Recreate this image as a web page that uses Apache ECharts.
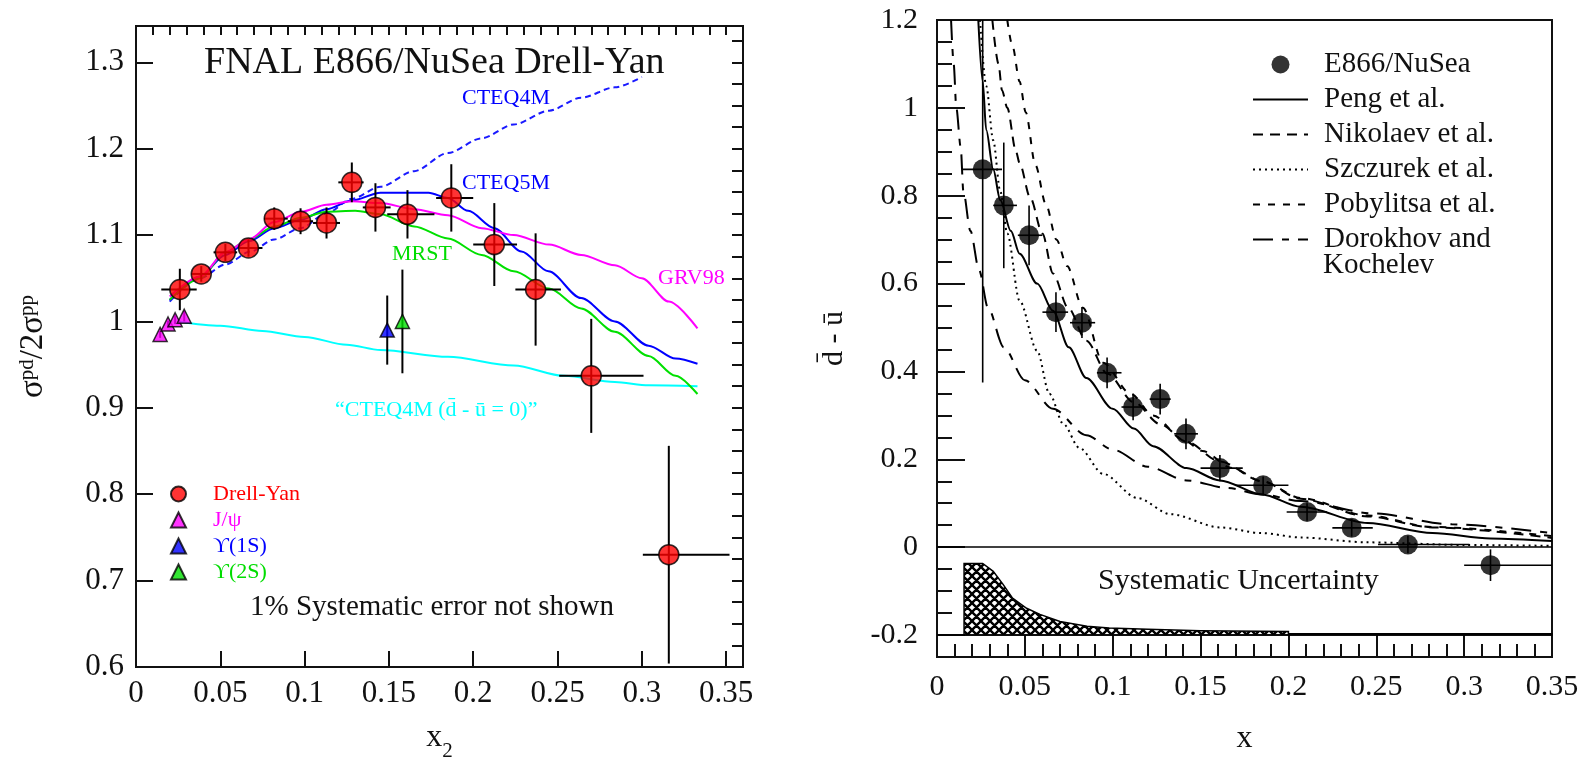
<!DOCTYPE html>
<html>
<head>
<meta charset="utf-8">
<script src="https://cdn.jsdelivr.net/npm/echarts@6/dist/echarts.min.js"></script>
<style>
html, body { margin: 0; background: #fff; }
#main { width: 1589px; height: 757px; }
</style>
</head>
<body>
<div id="main"></div>
<script>
// ---------- left panel: sigma(pd) / 2 sigma(pp) ----------
const dyX   = [0.026, 0.0387, 0.053, 0.0667, 0.082, 0.0976, 0.113, 0.128, 0.142, 0.161, 0.187, 0.2125, 0.237, 0.270, 0.316];
const dyY   = [1.037, 1.055, 1.080, 1.085, 1.119, 1.116, 1.114, 1.161, 1.132, 1.124, 1.143, 1.089, 1.037, 0.937, 0.730];
const dyXLo = [0.015, 0.033, 0.046, 0.061, 0.076, 0.090, 0.105, 0.120, 0.1345, 0.149, 0.178, 0.200, 0.225, 0.251, 0.3006];
const dyXHi = [0.036, 0.044, 0.060, 0.075, 0.090, 0.105, 0.121, 0.135, 0.151, 0.177, 0.200, 0.226, 0.252, 0.301, 0.352];
const dyErr = [0.024, 0.009, 0.010, 0.010, 0.013, 0.015, 0.018, 0.023, 0.028, 0.028, 0.039, 0.048, 0.065, 0.066, 0.126];

const jpsiX = [0.0143, 0.019, 0.0232, 0.0286];
const jpsiY = [0.985, 0.997, 1.002, 1.006];
const jpsiErr = [0.004, 0.004, 0.005, 0.006];
const ups1X = [0.149], ups1Y = [0.990], ups1Err = [0.040];
const ups2X = [0.158], ups2Y = [1.000], ups2Err = [0.060];

const cteq4mX = [0.020, 0.038, 0.053, 0.068, 0.082, 0.0976, 0.113, 0.128, 0.145, 0.165, 0.185, 0.205, 0.224, 0.245, 0.264, 0.284, 0.300];
const cteq4mY = [1.023, 1.050, 1.066, 1.081, 1.095, 1.108, 1.125, 1.142, 1.156, 1.174, 1.195, 1.212, 1.228, 1.244, 1.259, 1.271, 1.283];
const cteq5mX = [0.020, 0.038, 0.053, 0.067, 0.082, 0.098, 0.113, 0.128, 0.145, 0.1735, 0.185, 0.197, 0.2125, 0.2286, 0.2446, 0.264, 0.284, 0.304, 0.320, 0.333];
const cteq5mY = [1.025, 1.052, 1.077, 1.093, 1.108, 1.118, 1.130, 1.140, 1.149, 1.149, 1.143, 1.128, 1.108, 1.081, 1.058, 1.027, 1.000, 0.972, 0.957, 0.951];
const grvX = [0.020, 0.038, 0.053, 0.067, 0.082, 0.098, 0.113, 0.128, 0.145, 0.165, 0.185, 0.205, 0.224, 0.245, 0.264, 0.284, 0.300, 0.316, 0.333];
const grvY = [1.029, 1.052, 1.080, 1.095, 1.115, 1.127, 1.135, 1.139, 1.137, 1.130, 1.123, 1.108, 1.100, 1.089, 1.077, 1.065, 1.050, 1.023, 0.992];
const mrstX = [0.020, 0.038, 0.053, 0.067, 0.082, 0.098, 0.113, 0.130, 0.145, 0.165, 0.185, 0.205, 0.224, 0.245, 0.264, 0.284, 0.304, 0.320, 0.333];
const mrstY = [1.025, 1.050, 1.080, 1.095, 1.110, 1.120, 1.127, 1.128, 1.124, 1.110, 1.096, 1.077, 1.058, 1.038, 1.015, 0.988, 0.960, 0.937, 0.916];
const noSeaX = [0.025, 0.050, 0.075, 0.100, 0.125, 0.145, 0.185, 0.224, 0.254, 0.284, 0.304, 0.333];
const noSeaY = [1.000, 0.995, 0.989, 0.982, 0.973, 0.967, 0.959, 0.949, 0.937, 0.930, 0.926, 0.925];

// ---------- right panel: dbar - ubar ----------
const nuX   = [0.026, 0.038, 0.0524, 0.0677, 0.0825, 0.0968, 0.1116, 0.127, 0.1417, 0.161, 0.1856, 0.2106, 0.236, 0.268, 0.315];
const nuY   = [0.860, 0.778, 0.710, 0.535, 0.511, 0.397, 0.319, 0.337, 0.258, 0.180, 0.141, 0.080, 0.044, 0.006, -0.041];
const nuErr = [0.485, 0.143, 0.068, 0.045, 0.035, 0.035, 0.030, 0.035, 0.035, 0.030, 0.020, 0.020, 0.020, 0.020, 0.036];
const nuXLo = [0.0148, 0.032, 0.046, 0.060, 0.0757, 0.091, 0.105, 0.121, 0.135, 0.150, 0.170, 0.199, 0.225, 0.251, 0.300];
const nuXHi = [0.037, 0.0455, 0.060, 0.0746, 0.090, 0.105, 0.118, 0.133, 0.1485, 0.174, 0.200, 0.222, 0.248, 0.303, 0.350];

const pengX = [0.0235, 0.026, 0.028, 0.032, 0.036, 0.042, 0.047, 0.057, 0.066, 0.075, 0.085, 0.100, 0.112, 0.123, 0.142, 0.161, 0.185, 0.207, 0.245, 0.282, 0.315, 0.350];
const pengY = [1.200, 1.060, 0.950, 0.860, 0.790, 0.720, 0.668, 0.600, 0.538, 0.455, 0.385, 0.315, 0.270, 0.230, 0.180, 0.152, 0.120, 0.092, 0.055, 0.032, 0.020, 0.014];
const nikX = [0.0315, 0.035, 0.037, 0.040, 0.045, 0.047, 0.053, 0.060, 0.066, 0.0746, 0.085, 0.097, 0.112, 0.127, 0.142, 0.161, 0.185, 0.207, 0.245, 0.282, 0.350];
const nikY = [1.200, 1.100, 1.040, 1.000, 0.900, 0.874, 0.796, 0.714, 0.623, 0.545, 0.470, 0.395, 0.330, 0.280, 0.240, 0.195, 0.150, 0.110, 0.070, 0.045, 0.021];
const szX = [0.0245, 0.028, 0.032, 0.036, 0.040, 0.047, 0.057, 0.064, 0.072, 0.081, 0.0945, 0.114, 0.133, 0.161, 0.185, 0.207, 0.245, 0.300, 0.350];
const szY = [1.200, 1.050, 0.926, 0.810, 0.714, 0.561, 0.447, 0.349, 0.280, 0.226, 0.167, 0.112, 0.075, 0.045, 0.032, 0.022, 0.011, 0.005, 0.003];
const pobX = [0.040, 0.043, 0.047, 0.0505, 0.056, 0.062, 0.068, 0.074, 0.083, 0.0945, 0.110, 0.123, 0.140, 0.151, 0.168, 0.185, 0.207, 0.245, 0.282, 0.350];
const pobY = [1.200, 1.140, 1.060, 0.990, 0.870, 0.780, 0.700, 0.640, 0.545, 0.420, 0.350, 0.300, 0.245, 0.219, 0.180, 0.150, 0.112, 0.072, 0.046, 0.025];
const dorX = [0.008, 0.0095, 0.011, 0.0135, 0.015, 0.019, 0.024, 0.029, 0.038, 0.050, 0.066, 0.085, 0.100, 0.120, 0.142, 0.165, 0.185, 0.207, 0.248, 0.293, 0.350];
const dorY = [1.200, 1.100, 1.000, 0.910, 0.810, 0.720, 0.630, 0.545, 0.455, 0.380, 0.315, 0.255, 0.222, 0.183, 0.152, 0.135, 0.120, 0.105, 0.077, 0.052, 0.032];

// systematic uncertainty band (drawn up from -0.2)
const sysX = [0.0154, 0.0154, 0.026, 0.032, 0.0375, 0.043, 0.051, 0.0586, 0.070, 0.0854, 0.098, 0.120, 0.150, 0.200, 0.200, 0.350];
const sysY = [-0.200, -0.037, -0.037, -0.055, -0.084, -0.116, -0.139, -0.153, -0.169, -0.180, -0.184, -0.187, -0.190, -0.192, -0.197, -0.197];
const sysBase = -0.2;

const SERIF = '"Liberation Serif", "DejaVu Serif", serif';
const INK = '#111';

// cross hatch pattern for the band
const hatch = document.createElement('canvas');
hatch.width = hatch.height = 9;
const hg = hatch.getContext('2d');
hg.fillStyle = '#fff';
hg.fillRect(0, 0, 9, 9);
hg.strokeStyle = '#000';
hg.lineWidth = 2.4;
hg.beginPath();
for (const k of [-9, 0, 9]) {
    hg.moveTo(k - 2, -2); hg.lineTo(k + 11, 11);
    hg.moveTo(k + 11, -2); hg.lineTo(k - 2, 11);
}
hg.stroke();

function errorBars(width) {
    return function (params, api) {
        const cs = params.coordSys;
        const clampY = y => Math.max(cs.y, Math.min(cs.y + cs.height, y));
        const x = api.value(0), y = api.value(1);
        const l = api.coord([api.value(2), y]);
        const r = api.coord([api.value(3), y]);
        const b = api.coord([x, api.value(4)]);
        const t = api.coord([x, api.value(5)]);
        const style = { stroke: '#000', lineWidth: width };
        return {
            type: 'group',
            children: [
                { type: 'line', shape: { x1: l[0], y1: l[1], x2: r[0], y2: r[1] }, style },
                { type: 'line', shape: { x1: b[0], y1: clampY(b[1]), x2: t[0], y2: clampY(t[1]) }, style }
            ]
        };
    };
}

const pairs = (xs, ys) => xs.map((x, i) => [x, ys[i]]);
const barRows = (xs, ys, err, lo, hi) => xs.map((x, i) => [x, ys[i], lo ? lo[i] : x, hi ? hi[i] : x, ys[i] - err[i], ys[i] + err[i]]);

function curve(name, xs, ys, color, type, xi, yi) {
    return {
        name: name,
        type: 'line',
        xAxisIndex: xi,
        yAxisIndex: yi,
        data: pairs(xs, ys),
        symbol: 'none',
        smooth: 0.3,
        smoothMonotone: 'x',
        lineStyle: { color: color, width: 2, type: type },
        itemStyle: { color: color },
        z: 2
    };
}

const fmtStep = step => v => {
    const q = v / step;
    return Math.abs(q - Math.round(q)) < 1e-6 ? String(+v.toFixed(2)) : '';
};

const tickLabel = (size, margin) => ({
    fontFamily: SERIF, fontSize: size, color: INK, margin: margin
});

// line items in the right legend: hide the symbol drawn in the middle of the line
const lineItem = name => ({ name: name, itemStyle: { opacity: 0 } });

const myChart = echarts.init(document.getElementById('main'));
myChart.setOption({
    animation: false,
    backgroundColor: '#fff',
    grid: [
        { left: 136, top: 26, width: 607, height: 641, show: true, borderColor: INK, borderWidth: 2, containLabel: false, outerBoundsMode: 'none' },
        { left: 937, top: 20, width: 615, height: 637, show: true, borderColor: INK, borderWidth: 2, containLabel: false, outerBoundsMode: 'none' },
        { left: 937, top: 20, width: 615, height: 615, show: false, containLabel: false, outerBoundsMode: 'none' }
    ],
    xAxis: [
        {
            gridIndex: 0, type: 'value', min: 0, max: 0.36, interval: 0.05,
            axisLine: { onZero: false, lineStyle: { color: INK, width: 2 } },
            axisTick: { inside: true, length: 16, lineStyle: { color: INK, width: 2 } },
            axisLabel: Object.assign(tickLabel(31, 11), { formatter: fmtStep(0.05) }),
            splitLine: { show: false },
            name: '{a|x}{b|2}', nameLocation: 'middle', nameGap: 55,
            nameTextStyle: { rich: { a: { fontFamily: SERIF, fontSize: 32, color: INK }, b: { fontFamily: SERIF, fontSize: 21, color: INK, verticalAlign: 'bottom', padding: [0, 0, -8, 0] } } }
        },
        {
            gridIndex: 0, type: 'value', min: 0, max: 0.36, interval: 0.01,
            axisLine: { show: false, onZero: false },
            axisTick: { inside: true, length: 9, lineStyle: { color: INK, width: 2 } },
            axisLabel: { show: false },
            splitLine: { show: false }
        },
        {
            gridIndex: 1, type: 'value', min: 0, max: 0.35, interval: 0.05,
            axisLine: { onZero: false, lineStyle: { color: INK, width: 2 } },
            axisTick: { inside: true, length: 24, lineStyle: { color: INK, width: 2 } },
            minorTick: { show: true, splitNumber: 5, length: 13, lineStyle: { color: INK, width: 2 } },
            axisLabel: Object.assign(tickLabel(30, 15), { formatter: fmtStep(0.05) }),
            splitLine: { show: false },
            name: 'x', nameLocation: 'middle', nameGap: 66,
            nameTextStyle: { fontFamily: SERIF, fontSize: 32, color: INK }
        },
        { gridIndex: 2, type: 'value', min: 0, max: 0.35, show: false }
    ],
    yAxis: [
        {
            gridIndex: 0, type: 'value', min: 0.6, max: 1.342, interval: 0.1,
            axisLine: { onZero: false, lineStyle: { color: INK, width: 2 } },
            axisTick: { inside: true, length: 17, lineStyle: { color: INK, width: 2 } },
            axisLabel: Object.assign(tickLabel(31, 12), { formatter: fmtStep(0.1) }),
            splitLine: { show: false },
            name: '{s|σ}{p|pd}{s|/2σ}{p|pp}', nameLocation: 'middle', nameGap: 86,
            nameTextStyle: { rich: { s: { fontFamily: SERIF, fontSize: 33, color: INK }, p: { fontFamily: SERIF, fontSize: 21, color: INK, verticalAlign: 'top' } } }
        },
        {
            gridIndex: 0, type: 'value', min: 0.6, max: 1.342, interval: 0.025,
            axisLine: { show: false, onZero: false },
            axisTick: { inside: true, length: 11, lineStyle: { color: INK, width: 2 } },
            axisLabel: { show: false },
            splitLine: { show: false }
        },
        {
            gridIndex: 1, type: 'value', min: -0.25, max: 1.2, interval: 0.05,
            axisLine: { onZero: false, lineStyle: { color: INK, width: 2 } },
            axisTick: { inside: true, length: 15, lineStyle: { color: INK, width: 2 } },
            axisLabel: { show: false },
            splitLine: { show: false },
            name: 'd\u0304 - \u016B', nameLocation: 'middle', nameGap: 88,
            nameTextStyle: { fontFamily: SERIF, fontSize: 30, color: INK }
        },
        {
            gridIndex: 2, type: 'value', min: -0.2, max: 1.2, interval: 0.2,
            axisLine: { show: false, onZero: false },
            axisTick: { inside: true, length: 28, lineStyle: { color: INK, width: 2 } },
            axisLabel: Object.assign(tickLabel(30, 19), { formatter: fmtStep(0.2) }),
            splitLine: { show: false }
        }
    ],
    legend: [
        {
            data: [
                { name: 'Drell-Yan', textStyle: { color: '#ff0000' } },
                { name: 'J/ψ', textStyle: { color: '#ff00ff' } },
                { name: 'ϒ(1S)', textStyle: { color: '#0000ff' } },
                { name: 'ϒ(2S)', textStyle: { color: '#00dd00' } }
            ],
            orient: 'vertical', left: 170, top: 483, padding: 0,
            itemWidth: 15, itemHeight: 15, itemGap: 4, selectedMode: false,
            textStyle: { fontFamily: SERIF, fontSize: 22, lineHeight: 22, padding: [0, 0, 0, 22] }
        },
        {
            data: ['E866/NuSea', lineItem('Peng et al.'), lineItem('Nikolaev et al.'), lineItem('Szczurek et al.'),
                lineItem('Pobylitsa et al.'), lineItem('Dorokhov and')],
            orient: 'vertical', left: 1252, top: 50, padding: 0,
            itemWidth: 55, itemHeight: 18, itemGap: 6, selectedMode: false,
            textStyle: { fontFamily: SERIF, fontSize: 29, lineHeight: 26, color: INK, padding: [0, 0, 0, 11] }
        }
    ],
    graphic: [
        { type: 'text', left: 204, top: 44, style: { text: 'FNAL E866/NuSea Drell-Yan', font: '38px ' + SERIF, fill: INK } },
        { type: 'text', left: 462, top: 87, style: { text: 'CTEQ4M', font: '22px ' + SERIF, fill: '#0000ff' } },
        { type: 'text', left: 462, top: 172, style: { text: 'CTEQ5M', font: '22px ' + SERIF, fill: '#0000ff' } },
        { type: 'text', left: 392, top: 243, style: { text: 'MRST', font: '22px ' + SERIF, fill: '#00dd00' } },
        { type: 'text', left: 658, top: 267, style: { text: 'GRV98', font: '22px ' + SERIF, fill: '#ff00ff' } },
        { type: 'text', left: 335, top: 399, style: { text: '“CTEQ4M (d\u0304 - \u016B = 0)”', font: '22px ' + SERIF, fill: '#00ffff' } },
        { type: 'text', left: 250, top: 593, style: { text: '1% Systematic error not shown', font: '29px ' + SERIF, fill: INK } },
        { type: 'text', left: 1098, top: 566, style: { text: 'Systematic Uncertainty', font: '30px ' + SERIF, fill: INK } },
        { type: 'text', left: 1323, top: 251, style: { text: 'Kochelev', font: '29px ' + SERIF, fill: INK } }
    ],
    series: [
        // left panel curves
        curve('CTEQ4M (no sea asymmetry)', noSeaX, noSeaY, '#00ffff', 'solid', 0, 0),
        curve('CTEQ4M', cteq4mX, cteq4mY, '#1a1aff', [6, 4], 0, 0),
        curve('CTEQ5M', cteq5mX, cteq5mY, '#0000ff', 'solid', 0, 0),
        curve('MRST', mrstX, mrstY, '#00e000', 'solid', 0, 0),
        curve('GRV98', grvX, grvY, '#ff00ff', 'solid', 0, 0),
        {
            type: 'custom', xAxisIndex: 0, yAxisIndex: 0, z: 3,
            renderItem: errorBars(2),
            encode: { x: 0, y: 1 },
            data: barRows(dyX, dyY, dyErr, dyXLo, dyXHi)
                .concat(barRows(jpsiX, jpsiY, jpsiErr))
                .concat(barRows(ups1X, ups1Y, ups1Err))
                .concat(barRows(ups2X, ups2Y, ups2Err))
        },
        {
            name: 'Drell-Yan', type: 'scatter', xAxisIndex: 0, yAxisIndex: 0, z: 4,
            symbol: 'circle', symbolSize: 20, data: pairs(dyX, dyY),
            itemStyle: { color: '#ff0000', borderColor: '#000', borderWidth: 1.5 }
        },
        {
            name: 'J/ψ', type: 'scatter', xAxisIndex: 0, yAxisIndex: 0, z: 4,
            symbol: 'triangle', symbolSize: 14, data: pairs(jpsiX, jpsiY),
            itemStyle: { color: '#ff00ff', borderColor: '#000', borderWidth: 1.5 }
        },
        {
            name: 'ϒ(1S)', type: 'scatter', xAxisIndex: 0, yAxisIndex: 0, z: 4,
            symbol: 'triangle', symbolSize: 14, data: pairs(ups1X, ups1Y),
            itemStyle: { color: '#0000ff', borderColor: '#000', borderWidth: 1.5 }
        },
        {
            name: 'ϒ(2S)', type: 'scatter', xAxisIndex: 0, yAxisIndex: 0, z: 4,
            symbol: 'triangle', symbolSize: 14, data: pairs(ups2X, ups2Y),
            itemStyle: { color: '#00e000', borderColor: '#000', borderWidth: 1.5 }
        },
        // right panel
        {
            type: 'custom', xAxisIndex: 2, yAxisIndex: 2, z: 1,
            encode: { x: 0, y: 1 },
            data: pairs(sysX, sysY),
            renderItem(params, api) {
                if (params.dataIndex !== 0) return;
                const pts = sysX.map((x, i) => api.coord([x, sysY[i]]));
                pts.push(api.coord([sysX[sysX.length - 1], sysBase]));
                pts.push(api.coord([sysX[0], sysBase]));
                return {
                    type: 'polygon', shape: { points: pts },
                    style: { fill: { image: hatch, repeat: 'repeat' }, stroke: '#000', lineWidth: 1.5 }
                };
            }
        },
        curve('Peng et al.', pengX, pengY, '#000', 'solid', 2, 2),
        curve('Nikolaev et al.', nikX, nikY, '#000', [10, 7], 2, 2),
        curve('Szczurek et al.', szX, szY, '#000', [2, 4], 2, 2),
        curve('Pobylitsa et al.', pobX, pobY, '#000', [7, 8], 2, 2),
        curve('Dorokhov and', dorX, dorY, '#000', [20, 9, 7, 9], 2, 2),
        {
            type: 'custom', xAxisIndex: 2, yAxisIndex: 2, z: 3,
            renderItem: errorBars(1.6),
            encode: { x: 0, y: 1 },
            data: barRows(nuX, nuY, nuErr, nuXLo, nuXHi)
        },
        {
            name: 'E866/NuSea', type: 'scatter', xAxisIndex: 2, yAxisIndex: 2, z: 4,
            symbol: 'circle', symbolSize: 20, data: pairs(nuX, nuY),
            itemStyle: { color: '#000' },
            markLine: {
                silent: true, symbol: 'none', label: { show: false },
                lineStyle: { color: '#000', width: 1.6, type: 'solid' },
                data: [{ yAxis: 0 }, { yAxis: sysBase }]
            }
        }
    ]
});
</script>
</body>
</html>
